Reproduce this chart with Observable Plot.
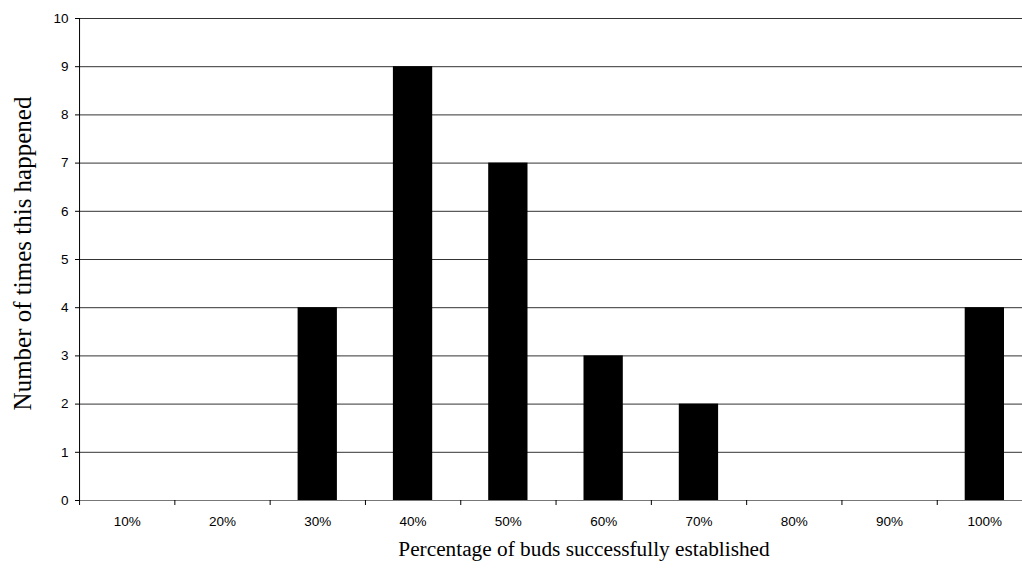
<!DOCTYPE html>
<html>
<head>
<meta charset="utf-8">
<script src="https://cdn.jsdelivr.net/npm/d3@7"></script>
<script src="https://cdn.jsdelivr.net/npm/@observablehq/plot@0.6"></script>
<style>
  html, body { margin: 0; padding: 0; background: #fff; overflow: hidden; }
  #chart { width: 1022px; height: 570px; overflow: hidden; position: relative; }
  #chart svg { overflow: hidden; }
</style>
</head>
<body>
<div id="chart"></div>
<script>
const categories = ["10%", "20%", "30%", "40%", "50%", "60%", "70%", "80%", "90%", "100%"];
const counts = [0, 0, 4, 9, 7, 3, 2, 0, 0, 4];
const yTicks = [0, 1, 2, 3, 4, 5, 6, 7, 8, 9, 10];
const xTitle = "Percentage of buds successfully established";
const yTitle = "Number of times this happened";

const data = categories.map((c, i) => ({cat: c, n: counts[i]}));
const gridVals = yTicks.filter(v => v > 0);
const serif = "'Liberation Serif', 'Times New Roman', serif";

const chart = Plot.plot({
  width: 1022,
  height: 570,
  marginLeft: 79,
  marginRight: -10,
  marginTop: 18,
  marginBottom: 70,
  style: {background: "#fff", fontFamily: "'Liberation Sans', Arial, sans-serif", fontSize: "13.5px", color: "#000"},
  x: {type: "band", domain: categories, padding: 0, round: false},
  y: {type: "linear", domain: [0, 10]},
  marks: [
    Plot.ruleY(gridVals, {y: d => d, stroke: "#333", strokeWidth: 1}),
    Plot.barY(data.filter(d => d.n > 0), {x: "cat", y: "n", fill: "#000", insetLeft: 28, insetRight: 28}),
    Plot.ruleY([0], {y: d => d, stroke: "#777", strokeWidth: 1}),
    Plot.ruleX([categories[0]], {x: d => d, dx: -47.6, y1: 0, y2: 10, stroke: "#000", strokeWidth: 1}),
    Plot.axisY({ticks: yTicks, tickSize: 4, tickPadding: 7, label: null, tickFormat: d => String(d), stroke: "#000"}),
    Plot.axisX({tickSize: 5, tickFormat: () => "", dx: -47.6, label: null, stroke: "#000"}),
    Plot.axisX({tickSize: 0, tickPadding: 16, label: null}),
    Plot.text([xTitle], {text: d => d, frameAnchor: "bottom", textAnchor: "middle", lineAnchor: "middle", dx: 28, dy: 49, fontFamily: serif, fontSize: 21.3, fill: "#000"}),
    Plot.text([yTitle], {text: d => d, frameAnchor: "left", textAnchor: "middle", lineAnchor: "middle", rotate: -90, dx: -57, dy: -6, fontFamily: serif, fontSize: 25, fill: "#000"})
  ]
});
document.getElementById("chart").appendChild(chart);
</script>
</body>
</html>
